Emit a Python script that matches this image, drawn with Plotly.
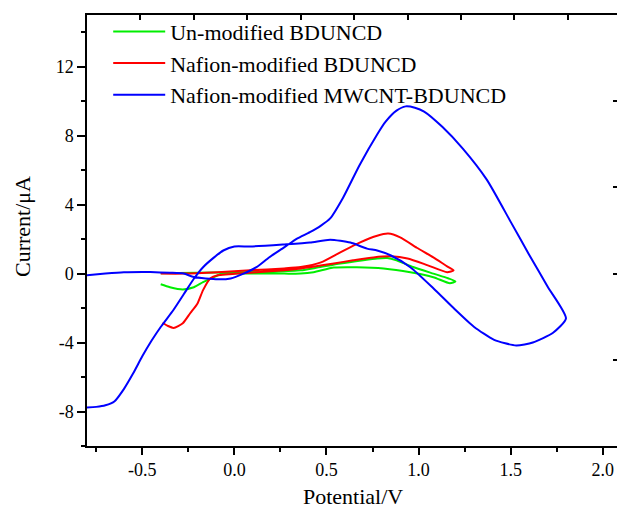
import plotly.graph_objects as go

# ---- data ----
green_v = [-0.40, -0.20, 0.00, 0.20, 0.36, 0.45, 0.575, 0.70, 0.775, 0.83, 0.88, 0.97, 1.08, 1.16, 1.20,
           1.17, 1.08, 0.955, 0.81, 0.665, 0.54, 0.43, 0.36, 0.27, 0.087, -0.06, -0.11, -0.17, -0.22, -0.28, -0.35, -0.40]
green_i = [0.02, 0.05, 0.08, 0.12, 0.19, 0.35, 0.59, 0.78, 0.88, 0.90, 0.77, 0.38, 0.00, -0.27, -0.45,
           -0.56, -0.21, 0.08, 0.30, 0.37, 0.35, 0.08, 0.00, 0.00, 0.00, 0.00, -0.20, -0.50, -0.79, -0.92, -0.79, -0.62]

red_v = [-0.40, -0.275, -0.09, 0.087, 0.27, 0.36, 0.47, 0.575, 0.68, 0.775, 0.835, 0.90, 0.99, 1.08, 1.155, 1.19,
         1.155, 1.05, 0.94, 0.85, 0.755, 0.645, 0.54, 0.41, 0.36, 0.27, 0.087, -0.09, -0.13, -0.17, -0.20, -0.24, -0.28, -0.33, -0.36, -0.39]
red_i = [0.00, 0.00, 0.08, 0.19, 0.30, 0.38, 0.65, 1.23, 1.80, 2.20, 2.32, 2.10, 1.50, 0.94, 0.42, 0.19,
         0.08, 0.48, 0.88, 1.00, 0.94, 0.77, 0.59, 0.37, 0.30, 0.20, 0.05, -0.10, -0.27, -0.96, -1.73, -2.30, -2.88, -3.15, -3.04, -2.85]

blue_v = [-0.80, -0.70, -0.60, -0.50, -0.456, -0.35, -0.275, -0.22, -0.09, -0.02, 0.05, 0.12, 0.19, 0.27, 0.34, 0.41,
          0.47, 0.52, 0.59, 0.68, 0.775, 0.82, 0.88, 0.93, 0.98, 1.03, 1.13, 1.24, 1.37, 1.50, 1.60, 1.70, 1.80,
          1.73, 1.62, 1.53, 1.41, 1.30, 1.19, 1.08, 0.955, 0.85, 0.775, 0.72, 0.63, 0.52, 0.41, 0.27, 0.087, 0.00,
          -0.06, -0.11, -0.17, -0.22, -0.275, -0.33, -0.40, -0.45, -0.50, -0.55, -0.60, -0.65, -0.70, -0.75, -0.80]
blue_i = [-0.10, 0.00, 0.08, 0.10, 0.09, 0.05, 0.00, -0.20, -0.33, -0.28, 0.00, 0.37, 0.95, 1.52, 2.03, 2.40,
          2.78, 3.20, 4.40, 6.30, 8.07, 8.80, 9.45, 9.70, 9.62, 9.40, 8.50, 7.25, 5.45, 3.00, 1.10, -0.75, -2.60,
          -3.43, -4.00, -4.17, -3.84, -3.08, -2.00, -0.85, 0.37, 1.05, 1.34, 1.45, 1.80, 1.97, 1.80, 1.69, 1.57, 1.57,
          1.34, 0.94, 0.37, -0.30, -1.20, -2.10, -3.10, -3.90, -4.80, -5.80, -6.70, -7.40, -7.64, -7.73, -7.76]

names = ["Un-modified BDUNCD", "Nafion-modified BDUNCD", "Nafion-modified MWCNT-BDUNCD"]
colors = ["#00ee00", "#ff0000", "#0000ff"]

x_ticks = [-0.5, 0.0, 0.5, 1.0, 1.5, 2.0]
x_ticktext = ["-0.5", "0.0", "0.5", "1.0", "1.5", "2.0"]
x_minor = [-0.75, -0.25, 0.25, 0.75, 1.25, 1.75]
y_ticks = [-8, -4, 0, 4, 8, 12]
y_ticktext = ["-8", "-4", "0", "4", "8", "12"]
y_minor = [-10, -6, -2, 2, 6, 10, 14]
top_ticks = [1, 2, 3, 4, 5, 6, 7, 8, 9]
right_ticks = [-5, 0, 5, 10]

FONT = "Liberation Serif"

fig = go.Figure()
for v, i, n, c in zip([green_v, red_v, blue_v], [green_i, red_i, blue_i], names, colors):
    fig.add_trace(go.Scatter(x=v, y=i, mode="lines", name=n,
                             line=dict(color=c, width=2, shape="spline", smoothing=0.6)))
# invisible helper trace so the secondary frame axes are drawn
fig.add_trace(go.Scatter(x=[None], y=[None], xaxis="x2", yaxis="y2", showlegend=False, hoverinfo="skip"))

axis_common = dict(showgrid=False, zeroline=False, linecolor="black", linewidth=1.5,
                   tickcolor="black", tickwidth=1.5)

fig.update_layout(
    width=617, height=512,
    margin=dict(l=87, r=0, t=15, b=66),
    paper_bgcolor="white", plot_bgcolor="white",
    font=dict(family=FONT, size=18, color="black"),
    xaxis=dict(range=[-0.8, 2.077], tickvals=x_ticks, ticktext=x_ticktext,
               ticks="outside", ticklen=7, showline=True,
               minor=dict(tickvals=x_minor, ticks="outside", ticklen=4, tickcolor="black", tickwidth=1.5),
               tickfont=dict(size=18), **axis_common),
    yaxis=dict(range=[-10, 15], tickvals=y_ticks, ticktext=y_ticktext,
               ticks="outside", ticklen=8, showline=True,
               minor=dict(tickvals=y_minor, ticks="outside", ticklen=4, tickcolor="black", tickwidth=1.5),
               tickfont=dict(size=18), **axis_common),
    xaxis2=dict(overlaying="x", side="top", anchor="y", range=[0, 9.92], tickvals=top_ticks,
                ticks="inside", ticklen=5, showticklabels=False, showline=True, **axis_common),
    yaxis2=dict(overlaying="y", side="right", anchor="x", range=[-10, 15], tickvals=right_ticks,
                ticks="inside", ticklen=4, showticklabels=False, showline=False, **axis_common),
    legend=dict(x=0.04, y=1.01, xanchor="left", yanchor="top", bgcolor="rgba(0,0,0,0)",
                font=dict(family=FONT, size=22), itemwidth=52, tracegroupgap=0),
    annotations=[
        dict(text="Potential/V", xref="paper", yref="paper", x=0.502, y=-0.117,
             xanchor="center", yanchor="middle", showarrow=False, font=dict(family=FONT, size=22)),
        dict(text="Current/μA", xref="paper", yref="paper", x=-0.123, y=0.51, textangle=-90,
             xanchor="center", yanchor="middle", showarrow=False, font=dict(family=FONT, size=22)),
    ],
)

fig.write_html("out.html")
